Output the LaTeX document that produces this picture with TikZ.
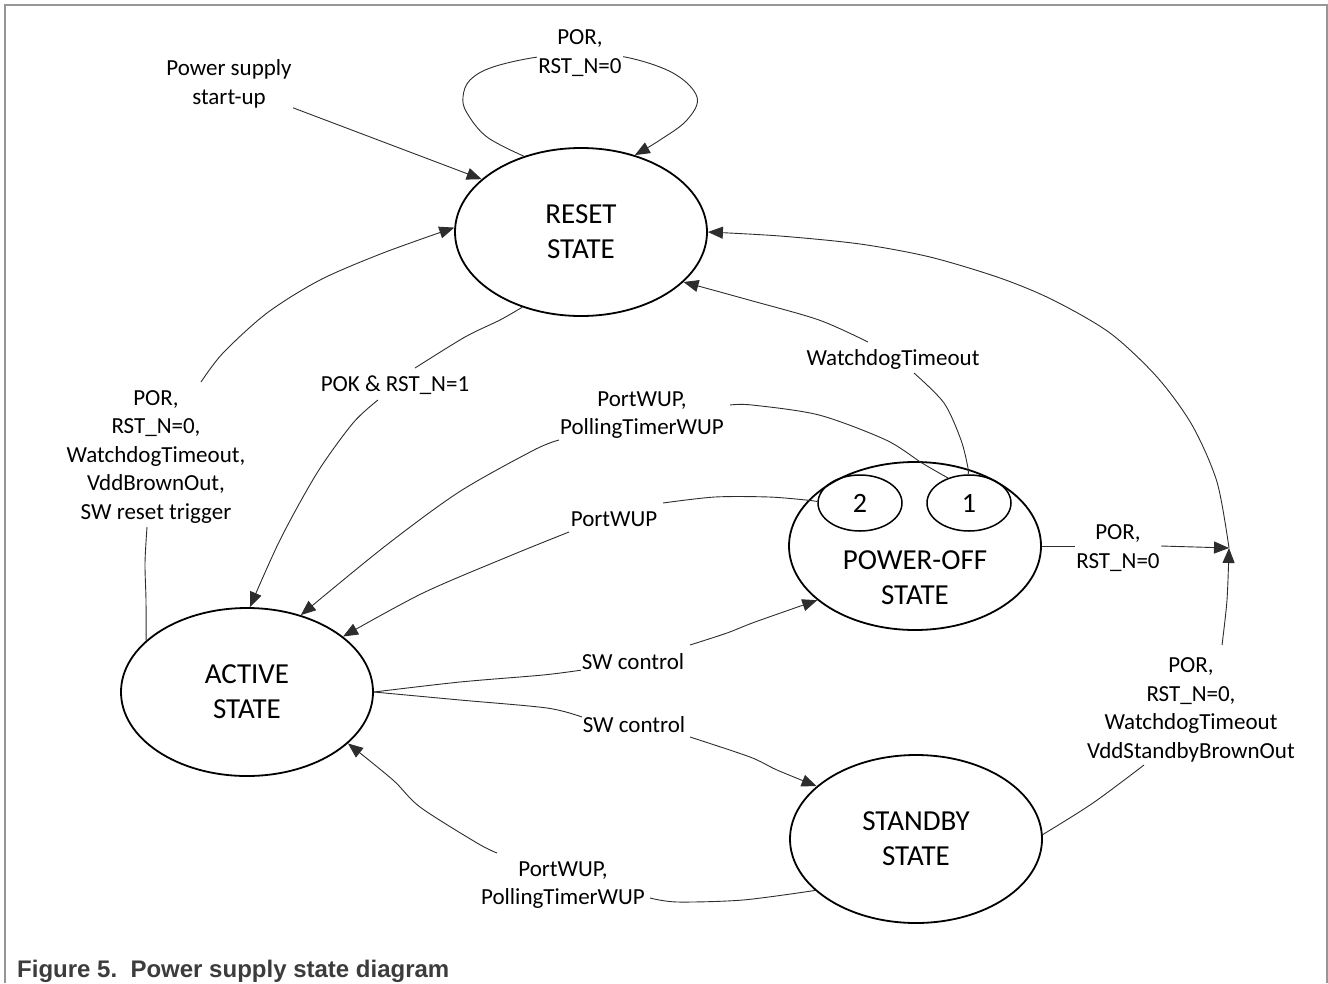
\documentclass[tikz,border=0pt]{standalone}
\usepackage{fontspec}
\setmainfont{Carlito}
\newfontfamily\capfont{Liberation Sans}
\usetikzlibrary{shapes.geometric,arrows.meta}
\definecolor{lnc}{RGB}{45,45,45}
\definecolor{framec}{RGB}{150,150,150}
\definecolor{capc}{RGB}{60,60,60}
\begin{document}
\begin{tikzpicture}[x=1pt,y=-1pt,
  state/.style={ellipse,draw=black,line width=1.8pt,minimum width=252pt,minimum height=168pt,inner sep=0pt,align=center,font=\fontsize{29}{35}\selectfont},
  stxt/.style={inner sep=0pt,align=center,font=\fontsize{29}{35}\selectfont},
  sub/.style={ellipse,draw=black,line width=1.5pt,minimum width=84pt,minimum height=56pt,inner sep=0pt,font=\fontsize{28}{34}\selectfont},
  lbl/.style={fill=white,inner sep=1pt,align=center,font=\fontsize{23}{28.5}\selectfont},
  conn/.style={draw=lnc,line width=0.9pt},
  arr/.style={conn,-{Triangle[length=15pt,width=12pt]}},
]
\useasboundingbox (0,0) rectangle (1328,983);
\draw[framec,line width=1.4pt] (5,983) -- (5,5) -- (1327,5) -- (1327,983);

% states
\node[state] (reset) at (581,232) {RESET\\STATE};
\node[state] (active) at (247,692) {ACTIVE\\STATE};
\node[state] (poff) at (915,546) {};
\node[stxt] (pofft) at (915,578) {POWER-OFF\\STATE};
\node[state] (standby) at (916,839) {STANDBY\\STATE};
\node[sub] (s2) at (860,503) {2};
\node[sub] (s1) at (969,503) {1};
\coordinate (J) at (1229,548);

% connectors
\draw[arr] (283,104) -- (reset.152);
\draw[arr] plot[smooth,tension=0.6] coordinates {(reset.127) (487,137) (467,113) (463,97) (470,80) (493,67) (538,57) (580,55) (625,57) (673,73) (697,97) (687,120) (660,140) (reset.55)};

\draw[conn] plot[smooth] coordinates {(active.153) (146,600) (145,563) (147,527)};
\draw[arr] plot[smooth] coordinates {(201,382) (223,353) (267,313) (320,280) (383,253) (reset.178)};

\draw[conn] plot[smooth] coordinates {(reset.232) (500,320) (465,337) (415,368)};
\draw[arr] plot[smooth] coordinates {(378,400) (353,423) (317,473) (280,540) (active.88)};

\draw[conn] plot[smooth] coordinates {(s1.130) (922,463) (886,440) (819,415) (752,405) (730,405)};
\draw[arr] plot[smooth] coordinates {(559,440) (534,450) (459,492) (384,547) (active.55)};

\draw[conn] plot[smooth] coordinates {(s2.178) (806,500) (769,497) (715,497) (663,503)};
\draw[arr] plot[smooth] coordinates {(569,532) (512,555) (423,593) (active.30)};

\draw[conn] plot[smooth] coordinates {(s1.92) (968,468) (961,440) (944,403) (914,373)};
\draw[arr] plot[smooth] coordinates {(868,342) (819,320) (749,300) (reset.334)};

\draw[conn] (poff.east) -- (1076,546);
\draw[arr] (1161,546) -- (J);

\draw[conn] plot[smooth] coordinates {(standby.2) (1093,803) (1144,765)};
\draw[arr] plot[smooth] coordinates {(1222,645) (1227,600) (J)};

\draw[arr] plot[smooth] coordinates {(J) (1217,482) (1192,425) (1157,377) (1110,333) (1053,300) (1000,278) (930,257) (860,244) (780,236) (reset.0)};

\draw[conn] plot[smooth] coordinates {(active.0) (460,682) (543,675) (582,670)};
\draw[arr] plot[smooth] coordinates {(690,645) (727,633) (755,622) (poff.209)};

\draw[conn] plot[smooth] coordinates {(active.0) (460,700) (547,708) (582,717)};
\draw[arr] plot[smooth] coordinates {(690,737) (750,757) (777,770) (standby.152)};

\draw[conn] plot[smooth] coordinates {(standby.207) (743,900) (677,902) (650,898)};
\draw[arr] plot[smooth] coordinates {(497,853) (477,843) (420,807) (393,780) (active.333)};

% labels
\node[lbl] (lps) at (229,84) {Power supply\\start-up};
\node[lbl] (lloop) at (580,53) {POR,\\RST\_N=0};
\node[lbl] (lleft) at (156,457) {POR,\\RST\_N=0,\\WatchdogTimeout,\\VddBrownOut,\\SW reset trigger};
\node[lbl] (lpok) at (395,385) {POK \& RST\_N=1};
\node[lbl] (lpp1) at (642,415) {PortWUP,\\PollingTimerWUP};
\node[lbl] (lpw) at (614,519) {PortWUP};
\node[lbl] (lwd) at (893,359) {WatchdogTimeout};
\node[lbl] (lpo) at (1118,548) {POR,\\RST\_N=0};
\node[lbl] (lsb) at (1191,710) {POR,\\RST\_N=0,\\WatchdogTimeout\\VddStandbyBrownOut};
\node[lbl] (lsw1) at (633,662) {SW control};
\node[lbl] (lsw2) at (634,725) {SW control};
\node[lbl] (lpp2) at (563,885) {PortWUP,\\PollingTimerWUP};

\node[anchor=base west,inner sep=0pt,text=capc,font=\capfont\bfseries\fontsize{24}{28}\selectfont] (cap) at (17,977) {Figure 5.\ \ Power supply state diagram};
\end{tikzpicture}
\end{document}
